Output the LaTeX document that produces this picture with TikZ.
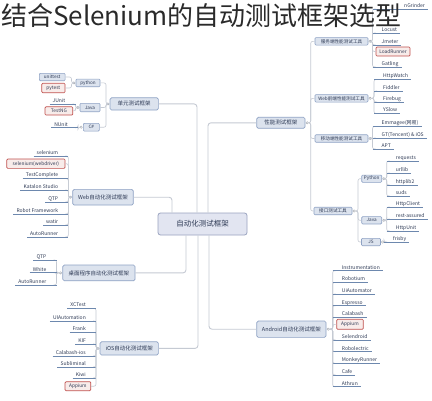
\documentclass[tikz,border=0pt]{standalone}
\usepackage{fontspec}
\setmainfont{Noto Sans CJK SC}
\definecolor{boxfill}{HTML}{DCE3EE}
\definecolor{boxdraw}{HTML}{8EA2C4}
\definecolor{cfill}{HTML}{E2E5F1}
\definecolor{cdraw}{HTML}{9AA3BF}
\definecolor{redfill}{HTML}{F8ECEA}
\definecolor{reddraw}{HTML}{C0504D}
\definecolor{txt}{HTML}{2E3A55}
\definecolor{connc}{HTML}{C5CAD3}
\definecolor{ulc}{HTML}{6D88AE}
\definecolor{titlec}{HTML}{2A2A2A}
% left leaf: name, knob, trunk x, underline y, text
\newcommand{\lfL}[5]{%
  \coordinate (#1-t) at (#3,#4);
  \node[leaf,anchor=base east] (#1) at (#3-10,#4-1.6) {#5};
  \draw[conn] (#2) -| (#1-t) -- ++(-3,0);
  \draw[uline] ([xshift=-3pt,yshift=-1.6pt]#1.base west) -- (#1-t);}
% right leaf
\newcommand{\lfR}[5]{%
  \coordinate (#1-t) at (#3,#4);
  \node[leaf,anchor=base west] (#1) at (#3+9,#4-1.6) {#5};
  \draw[conn] (#2) -| (#1-t) -- ++(3,0);
  \draw[uline] (#1-t) -- ([xshift=3pt,yshift=-1.6pt]#1.base east);}
% box children: box name, knob, trunk x
\newcommand{\bxL}[3]{\draw[conn] (#2) -| (#1.east -| #3,0) -- (#1.east);}
\newcommand{\bxR}[3]{\draw[conn] (#2) -| (#1.west -| #3,0) -- (#1.west);}
\begin{document}
\begin{tikzpicture}[x=1pt,y=-1pt,
  wh/.style 2 args={minimum width=#1pt, minimum height=#2pt},
  box/.style={draw=boxdraw, fill=boxfill, rounded corners=1.5pt, line width=0.7pt, inner sep=0pt, text=txt},
  mainbox/.style={box, font=\fontsize{5.5}{6}\selectfont},
  subbox/.style={box, line width=0.6pt, rounded corners=1pt, font=\fontsize{4.6}{5}\selectfont},
  redbox/.style={draw=reddraw, fill=redfill, rounded corners=1pt, line width=0.7pt, inner sep=0pt, text=txt, font=\fontsize{4.8}{5}\selectfont},
  centerbox/.style={draw=cdraw, fill=cfill, rounded corners=2.5pt, line width=0.8pt, inner sep=0pt, text=txt, font=\fontsize{7.5}{8}\selectfont},
  leaf/.style={inner sep=0pt, text=txt, font=\fontsize{5}{5.5}\selectfont},
  knob/.style={circle, draw=connc!80!black, fill=white, line width=0.4pt, minimum size=2.4pt, inner sep=0pt},
  conn/.style={draw=connc, line width=0.6pt, rounded corners=2pt},
  mainconn/.style={draw=connc, line width=0.9pt, rounded corners=3pt},
  uline/.style={draw=ulc, line width=0.6pt},
]
\fill[white] (0,0) rectangle (432,400);
\useasboundingbox (0,0) rectangle (432,400);

% centre and main branches
\node[centerbox, wh={89}{22}] (c) at (202.5,224) {自动化测试框架};
\node[mainbox, wh={48.3}{12.3}] (u) at (134.2,103.9) {单元测试框架};
\node[mainbox, wh={60.6}{15.7}] (w) at (103,197.2) {Web自动化测试框架};
\node[mainbox, wh={72.3}{15.7}] (d) at (98.9,272.9) {桌面程序自动化测试框架};
\node[mainbox, wh={58.3}{13.3}] (i) at (129.2,348.4) {iOS自动化测试框架};
\node[mainbox, wh={48.3}{11}] (p) at (280.9,122.8) {性能测试框架};
\node[mainbox, wh={69.3}{16.3}] (a) at (291.4,329.2) {Android自动化测试框架};

\draw[mainconn] ([xshift=-5.5pt]c.north) |- (u.east);
\draw[mainconn] ([xshift=-30.5pt]c.north) |- (w.east);
\draw[mainconn] ([xshift=5.5pt]c.north) |- (p.west);
\draw[mainconn] ([xshift=-16.5pt]c.south) |- (d.east);
\draw[mainconn] ([xshift=-4.5pt]c.south) |- (i.east);
\draw[mainconn] ([xshift=6.5pt]c.south) |- (a.west);

\node[knob] (uk) at ([xshift=-1.8pt]u.west) {};
\node[knob] (wk) at ([xshift=-1.8pt]w.west) {};
\node[knob] (dk) at ([xshift=-1.8pt]d.west) {};
\node[knob] (ik) at ([xshift=-1.8pt]i.west) {};
\node[knob] (pk) at ([xshift=1.8pt]p.east) {};
\node[knob] (ak) at ([xshift=1.8pt]a.east) {};

% unit test frameworks
\node[subbox, wh={24}{7.7}] (py) at (88,82.9) {python};
\node[subbox, wh={20}{8.4}] (ja) at (90,107.5) {Java};
\node[subbox, wh={16}{7.7}] (cs) at (91.3,127.2) {C\#};
\bxL{py}{uk}{106}
\bxL{ja}{uk}{106}
\bxL{cs}{uk}{106}
\node[knob] (pyk) at ([xshift=-1.8pt]py.west) {};
\node[knob] (jak) at ([xshift=-1.8pt]ja.west) {};
\node[knob] (csk) at ([xshift=-1.8pt]cs.west) {};
\node[subbox, wh={25.7}{7.4}] (ut) at (52.2,77) {unittest};
\node[redbox, wh={23.3}{9.4}] (pyt) at (53.4,88) {pytest};
\bxL{ut}{pyk}{71.5}
\bxL{pyt}{pyk}{71.5}
\lfL{junit}{jak}{75.5}{104}{JUnit}
\node[redbox, wh={27.7}{8.3}] (tng) at (58.9,110.9) {TestNG};
\bxL{tng}{jak}{75.5}
\lfL{nunit}{csk}{78}{127.7}{NUnit}

% web
\lfL{w1}{wk}{68.3}{156}{selenium}
\node[redbox, wh={58.3}{9.3}] (w2) at (35.9,163.7) {selenium(webdriver)};
\bxL{w2}{wk}{68.3}
\lfL{w3}{wk}{68.3}{178.5}{TestComplete}
\lfL{w4}{wk}{68.3}{190}{Katalon Studio}
\lfL{w5}{wk}{68.3}{202}{QTP}
\lfL{w6}{wk}{68.3}{214}{Robot Framework}
\lfL{w7}{wk}{68.3}{225}{watir}
\lfL{w8}{wk}{68.3}{237}{AutoRunner}

% desktop
\lfL{d1}{dk}{56.5}{260}{QTP}
\lfL{d2}{dk}{56.5}{272.7}{White}
\lfL{d3}{dk}{56.5}{285}{AutoRunner}

% iOS
\lfL{i1}{ik}{96}{308.3}{XCTest}
\lfL{i2}{ik}{96}{321}{UIAutomation}
\lfL{i3}{ik}{96}{332.3}{Frank}
\lfL{i4}{ik}{96}{344}{KIF}
\lfL{i5}{ik}{96}{356}{Calabash-ios}
\lfL{i6}{ik}{96}{367}{Subliminal}
\lfL{i7}{ik}{96}{378}{Kiwi}
\node[redbox, wh={25.7}{9}] (i8) at (77.9,386.2) {Appium};
\bxL{i8}{ik}{96}

% performance
\node[subbox, wh={53}{7.5}] (p1) at (341.5,41.3) {服务端性能测试工具};
\node[subbox, wh={53}{7.5}] (p2) at (341.5,98.3) {Web前端性能测试工具};
\node[subbox, wh={53}{7.5}] (p3) at (341.5,138.5) {移动端性能测试工具};
\node[subbox, wh={38}{7.5}] (p4) at (333,211) {接口测试工具};
\bxR{p1}{pk}{310.7}
\bxR{p2}{pk}{310.7}
\bxR{p3}{pk}{310.7}
\bxR{p4}{pk}{310.7}
\node[knob] (p1k) at ([xshift=1.8pt]p1.east) {};
\node[knob] (p2k) at ([xshift=1.8pt]p2.east) {};
\node[knob] (p3k) at ([xshift=1.8pt]p3.east) {};
\node[knob] (p4k) at ([xshift=1.8pt]p4.east) {};

\coordinate (p1a-t) at (372.5,9);
\node[leaf,anchor=base west] (p1a) at (404,7.4) {nGrinder};
\draw[conn] (p1k) -| (p1a-t) -- ++(3,0);
\draw[uline] (p1a-t) -- ([xshift=3pt,yshift=-1.6pt]p1a.base east);
\lfR{p1b}{p1k}{372.5}{33}{Locust}
\lfR{p1c}{p1k}{372.5}{45}{Jmeter}
\node[redbox, wh={34}{9}] (lr) at (393,51.5) {LoadRunner};
\bxR{lr}{p1k}{372.5}
\lfR{p1e}{p1k}{372.5}{67}{Gatling}

\lfR{p2a}{p2k}{374}{79.5}{HttpWatch}
\lfR{p2b}{p2k}{374}{91}{Fiddler}
\lfR{p2c}{p2k}{374}{102}{Firebug}
\lfR{p2d}{p2k}{374}{113.5}{YSlow}

\lfR{p3a}{p3k}{372.5}{126.5}{Emmagee(网易)}
\lfR{p3b}{p3k}{372.5}{138}{GT(Tencent) \& iOS}
\lfR{p3c}{p3k}{372.5}{149}{APT}

\node[subbox, wh={20}{7.3}] (ga) at (371.7,178.7) {Python};
\node[subbox, wh={20}{7.3}] (gb) at (371.7,220.3) {Java};
\node[subbox, wh={19}{7.4}] (gc) at (371,242) {JS};
\bxR{ga}{p4k}{358}
\bxR{gb}{p4k}{358}
\bxR{gc}{p4k}{358}
\node[knob] (gak) at ([xshift=1.8pt]ga.east) {};
\node[knob] (gbk) at ([xshift=1.8pt]gb.east) {};
\node[knob] (gck) at ([xshift=1.8pt]gc.east) {};
\lfR{ga1}{gak}{386.7}{161}{requests}
\lfR{ga2}{gak}{386.7}{173}{urllib}
\lfR{ga3}{gak}{386.7}{185}{httplib2}
\lfR{ga4}{gak}{386.7}{196}{suds}
\lfR{gb1}{gbk}{386.7}{207}{HttpClient}
\lfR{gb2}{gbk}{386.7}{219}{rest-assured}
\lfR{gb3}{gbk}{386.7}{231}{HttpUnit}
\lfR{gc1}{gck}{384}{242}{frisby}

% android
\lfR{a1}{ak}{332.7}{270.7}{Instrumentation}
\lfR{a2}{ak}{332.7}{282.3}{Robotium}
\lfR{a3}{ak}{332.7}{294}{UiAutomator}
\lfR{a4}{ak}{332.7}{305.7}{Espresso}
\lfR{a5}{ak}{332.7}{317.3}{Calabash}
\node[redbox, wh={26.6}{10}] (a6) at (350,324.3) {Appium};
\bxR{a6}{ak}{332.7}
\lfR{a7}{ak}{332.7}{340}{Selendroid}
\lfR{a8}{ak}{332.7}{351.7}{Robolectric}
\lfR{a9}{ak}{332.7}{363.3}{MonkeyRunner}
\lfR{a10}{ak}{332.7}{375}{Cafe}
\lfR{a11}{ak}{332.7}{386.7}{Athrun}

% title
\node[anchor=base west, inner sep=0pt, text=titlec, font=\fontsize{26}{26}\selectfont] (title) at (1,25) {结合Selenium的自动测试框架选型};
\end{tikzpicture}
\end{document}
